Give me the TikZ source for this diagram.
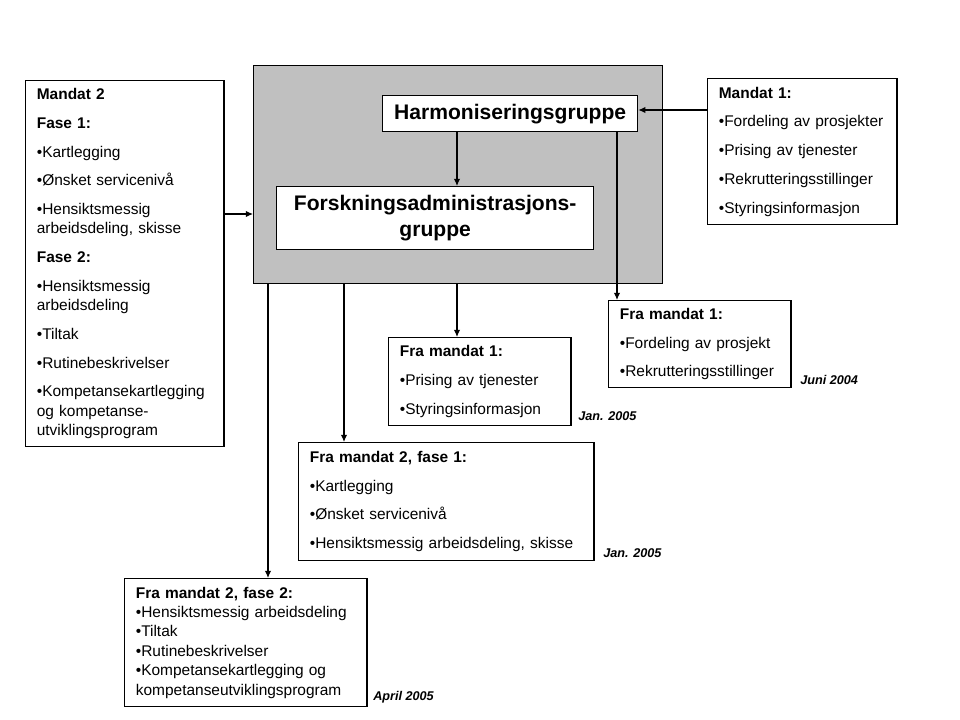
\documentclass[tikz,border=0pt]{standalone}
\usepackage{fontspec}
\setmainfont{Liberation Sans}
\usetikzlibrary{arrows.meta}
\definecolor{graafelt}{RGB}{192,192,192}
\newcommand{\nypkt}{\\[6.6pt]}

\begin{document}
\begin{tikzpicture}[x=0.025cm, y=-0.025cm,
	every node/.style={font=\fontsize{11}{13.8}\selectfont},
	boks/.style={draw, line width=0.9pt, fill=white, anchor=north west, align=left, inner xsep=0.28cm, inner ysep=0pt},
	tittel/.style={boks, align=center, font=\fontsize{15}{18.5}\selectfont\bfseries},
	dato/.style={anchor=base west, inner sep=0pt, font=\fontsize{9}{10}\selectfont\bfseries\itshape},
	pil/.style={-{Latex[length=5pt,width=4.5pt]}, line width=0.8pt}]
	\useasboundingbox (0,0) rectangle (960,720);
	\node[boks, fill=graafelt, minimum width=10.225cm, minimum height=5.45cm] (ledelse) at (253,65) {};
	\node[tittel, minimum width=6.375cm, minimum height=0.9cm] (harm) at (382,95) {Harmoniseringsgruppe};
	\node[tittel, minimum width=7.925cm, minimum height=1.575cm] (forsk) at (276,186) {Forskningsadministrasjons-\\gruppe};
	\node[boks, text width=4.4cm, minimum height=9.15cm] (mandat2) at (25,80) {\textbf{Mandat 2}\nypkt \textbf{Fase 1:}\nypkt •Kartlegging\nypkt •Ønsket servicenivå\nypkt •Hensiktsmessig\\arbeidsdeling, skisse\nypkt \textbf{Fase 2:}\nypkt •Hensiktsmessig\\arbeidsdeling\nypkt •Tiltak\nypkt •Rutinebeskrivelser\nypkt •Kompetansekartlegging\\og kompetanse-\\utviklingsprogram};
	\node[boks, text width=4.175cm, minimum height=3.65cm] (mandat1) at (707,78) {\textbf{Mandat 1:}\nypkt •Fordeling av prosjekter\nypkt •Prising av tjenester\nypkt •Rekrutteringsstillinger\nypkt •Styringsinformasjon};
	\node[boks, text width=4.0cm, minimum height=2.175cm] (fra1r) at (608,300) {\textbf{Fra mandat 1:}\nypkt •Fordeling av prosjekt\nypkt •Rekrutteringsstillinger};
	\node[boks, text width=4.0cm, minimum height=2.2cm] (fra1c) at (388,337) {\textbf{Fra mandat 1:}\nypkt •Prising av tjenester\nypkt •Styringsinformasjon};
	\node[boks, text width=6.825cm, minimum height=2.95cm] (fra2f1) at (298,442) {\textbf{Fra mandat 2, fase 1:}\nypkt •Kartlegging\nypkt •Ønsket servicenivå\nypkt •Hensiktsmessig arbeidsdeling, skisse};
	\node[boks, text width=5.5cm, minimum height=3.2cm] (fra2f2) at (124,578) {\textbf{Fra mandat 2, fase 2:}\\•Hensiktsmessig arbeidsdeling\\•Tiltak\\•Rutinebeskrivelser\\•Kompetansekartlegging og\\kompetanseutviklingsprogram};
	\node[dato] (d1) at (800,385) {Juni 2004};
	\node[dato] (d2) at (578,421) {Jan. 2005};
	\node[dato] (d3) at (603,558) {Jan. 2005};
	\node[dato] (d4) at (373,700) {April 2005};
	\draw[pil] (mandat2.east |- 0,214) -- (ledelse.west |- 0,214);
	\draw[pil] (mandat1.west |- 0,110) -- (harm.east |- 0,110);
	\draw[pil] (harm.south -| 457,0) -- (forsk.north -| 457,0);
	\draw[pil] (harm.south -| 617,0) -- (fra1r.north -| 617,0);
	\foreach \x/\m in {457/fra1c, 344/fra2f1, 268/fra2f2} {\draw[pil] (ledelse.south -| \x,0) -- (\m.north -| \x,0);}
\end{tikzpicture}
\end{document}
